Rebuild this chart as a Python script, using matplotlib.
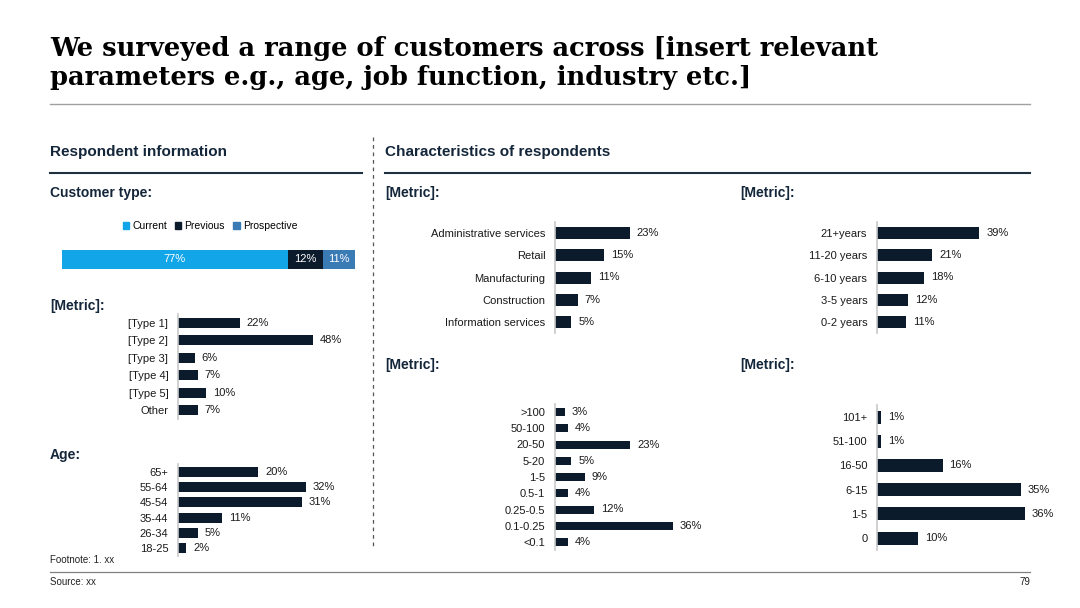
import matplotlib
matplotlib.use("Agg")
import matplotlib.pyplot as plt
from matplotlib.lines import Line2D
from matplotlib.patches import Patch

# ---------------- data ----------------
title_text = "We surveyed a range of customers across [insert relevant\nparameters e.g., age, job function, industry etc.]"

cust_types = ["Current", "Previous", "Prospective"]
cust_values = [77, 12, 11]

metric1_cats = ["[Type 1]", "[Type 2]", "[Type 3]", "[Type 4]", "[Type 5]", "Other"]
metric1_vals = [22, 48, 6, 7, 10, 7]

age_cats = ["65+", "55-64", "45-54", "35-44", "26-34", "18-25"]
age_vals = [20, 32, 31, 11, 5, 2]

industry_cats = ["Administrative services", "Retail", "Manufacturing", "Construction", "Information services"]
industry_vals = [23, 15, 11, 7, 5]

years_cats = ["21+years", "11-20 years", "6-10 years", "3-5 years", "0-2 years"]
years_vals = [39, 21, 18, 12, 11]

size_cats = [">100", "50-100", "20-50", "5-20", "1-5", "0.5-1", "0.25-0.5", "0.1-0.25", "<0.1"]
size_vals = [3, 4, 23, 5, 9, 4, 12, 36, 4]

emp_cats = ["101+", "51-100", "16-50", "6-15", "1-5", "0"]
emp_vals = [1, 1, 16, 35, 36, 10]

# ---------------- styling ----------------
W, H = 1080, 608
NAVY = "#0c1b2b"
HEAD = "#14263a"
CUR = "#12a5e8"
PRO = "#3a7ab5"
AXG = "#c8c8c8"
SANS = ["Liberation Sans", "DejaVu Sans"]
plt.rcParams["font.family"] = SANS

fig = plt.figure(figsize=(W / 100, H / 100), dpi=100)
fig.patch.set_facecolor("white")


def fx(x):
    return x / W


def fy(y):
    return 1 - y / H


def box(x0, y0, x1, y1):
    return [x0 / W, 1 - y1 / H, (x1 - x0) / W, (y1 - y0) / H]


def hline(x0, x1, y, color, lw):
    fig.add_artist(Line2D([fx(x0), fx(x1)], [fy(y), fy(y)], color=color, lw=lw,
                          transform=fig.transFigure))


def txt(x, y, s, size, bold=False, color=HEAD, ha="left", va="center", family=None):
    fig.text(fx(x), fy(y), s, fontsize=size, fontweight="bold" if bold else "normal",
             color=color, ha=ha, va=va, family=family or SANS)


def hbar(axis_x, px_per_unit, y_first, y_last, cats, vals, bar_px, right=1035):
    n = len(cats)
    pitch = (y_last - y_first) / (n - 1)
    top = y_first - pitch / 2
    bot = y_last + pitch / 2
    ax = fig.add_axes(box(axis_x, top, right, bot))
    ax.barh(range(n), vals, height=bar_px / pitch, color=NAVY)
    ax.set_xlim(0, (right - axis_x) / px_per_unit)
    ax.set_ylim(n - 0.5, -0.5)
    ax.set_yticks(range(n))
    ax.set_yticklabels(cats, fontsize=8, color="#1a1a1a")
    ax.tick_params(axis="y", length=0, pad=7)
    ax.set_xticks([])
    for s in ["top", "right", "bottom"]:
        ax.spines[s].set_visible(False)
    ax.spines["left"].set_color(AXG)
    ax.spines["left"].set_linewidth(1.2)
    ax.patch.set_alpha(0)
    for i, v in enumerate(vals):
        ax.annotate(f"{v}%", (v, i), xytext=(5, 0), textcoords="offset points",
                    va="center", ha="left", fontsize=8, color="#1a1a1a")
    return ax


# ---------------- title ----------------
fig.text(fx(50), fy(63), title_text, fontsize=18.5, fontweight="bold", color="black",
         ha="left", va="center", family=["DejaVu Serif"], linespacing=1.22)
hline(50, 1030, 104, "#a0a0a0", 1.0)

# ---------------- section headers ----------------
txt(50, 152, "Respondent information", 11, bold=True)
hline(50, 362, 173, "#1e3040", 1.5)
txt(385, 152, "Characteristics of respondents", 11, bold=True)
hline(385, 1030, 173, "#1e3040", 1.5)

fig.add_artist(Line2D([fx(373), fx(373)], [fy(137), fy(548)], color="#555555", lw=0.9,
                      ls=(0, (3, 3)), transform=fig.transFigure))

txt(50, 193, "Customer type:", 10, bold=True)
txt(50, 306, "[Metric]:", 10, bold=True)
txt(50, 455, "Age:", 10, bold=True)
txt(385, 193, "[Metric]:", 10, bold=True)
txt(740, 193, "[Metric]:", 10, bold=True)
txt(385, 365, "[Metric]:", 10, bold=True)
txt(740, 365, "[Metric]:", 10, bold=True)

# ---------------- stacked customer type bar ----------------
axs = fig.add_axes(box(62, 250, 355, 269))
colors = [CUR, NAVY, PRO]
left = 0
for name, v, c in zip(cust_types, cust_values, colors):
    axs.barh([0], [v], left=left, height=1.0, color=c, label=name)
    axs.text(left + v / 2, 0, f"{v}%", ha="center", va="center", color="white", fontsize=8)
    left += v
axs.set_xlim(0, sum(cust_values))
axs.set_ylim(-0.5, 0.5)
axs.axis("off")
handles = [Patch(color=c, label=n) for n, c in zip(cust_types, colors)]
fig.legend(handles=handles, loc="center", bbox_to_anchor=(fx(210), fy(226)), ncol=3,
           frameon=False, fontsize=7.5, handlelength=0.6, handleheight=0.6,
           handletextpad=0.3, columnspacing=0.8)

# ---------------- bar charts ----------------
hbar(178, 2.81, 323, 410, metric1_cats, metric1_vals, 10, right=362)
hbar(178, 4.0, 472, 548, age_cats, age_vals, 10, right=362)
hbar(555, 3.26, 233, 322, industry_cats, industry_vals, 12, right=720)
hbar(877, 2.62, 233, 322, years_cats, years_vals, 12, right=1035)
hbar(555, 3.28, 412, 542, size_cats, size_vals, 8, right=720)
hbar(877, 4.1, 417, 538, emp_cats, emp_vals, 13, right=1060)

# ---------------- footer ----------------
txt(50, 560, "Footnote: 1. xx", 7, color="#222222")
hline(50, 1030, 572, "#808080", 0.9)
txt(50, 582, "Source: xx", 7, color="#222222")
txt(1030, 582, "79", 7, color="#222222", ha="right")

fig.savefig("out.png", dpi=100, facecolor="white")
